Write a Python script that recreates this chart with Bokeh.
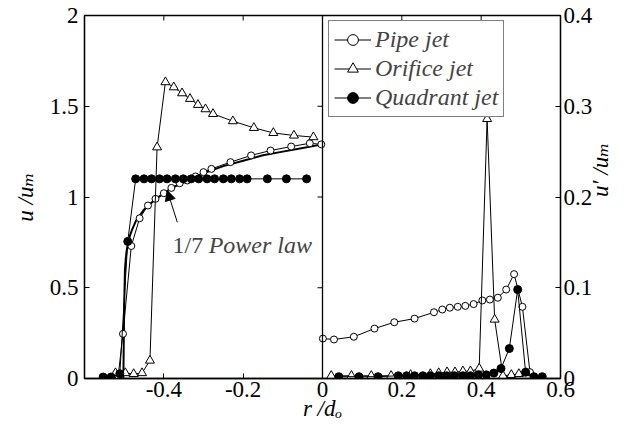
import math
from bokeh.plotting import figure
from bokeh.models import (Range1d, LinearAxis, FixedTicker, CustomJSTickFormatter,
                          Span, Label, Arrow, NormalHead, Legend, LegendItem)
from bokeh.embed import file_html
from bokeh.resources import INLINE

FONT = "Liberation Serif, Times New Roman, Tinos, DejaVu Serif, serif"

# ---------------- data: left half (mean velocity u/u_m) ----------------
pipe_r_mean = [-0.515, -0.503, -0.482, -0.461, -0.440, -0.421, -0.400, -0.381, -0.360, -0.341,
               -0.320, -0.300, -0.280, -0.232, -0.180, -0.131, -0.079, -0.032, -0.003]
pipe_u_mean = [0.015, 0.246, 0.730, 0.883, 0.953, 0.990, 1.021, 1.050, 1.076, 1.091,
               1.113, 1.137, 1.155, 1.192, 1.229, 1.256, 1.278, 1.296, 1.290]

orifice_r_mean = [-0.522, -0.497, -0.476, -0.455, -0.435, -0.417, -0.396, -0.375, -0.354, -0.334,
                  -0.314, -0.295, -0.276, -0.226, -0.173, -0.124, -0.072, -0.023]
orifice_u_mean = [0.030, 0.030, 0.025, 0.030, 0.099, 1.274, 1.633, 1.605, 1.572, 1.541,
                  1.508, 1.484, 1.458, 1.418, 1.381, 1.353, 1.339, 1.330]

quad_r_mean = [-0.553, -0.533, -0.511, -0.491, -0.471, -0.450, -0.431, -0.411, -0.392, -0.371,
               -0.351, -0.331, -0.312, -0.291, -0.272, -0.250, -0.230, -0.209, -0.190, -0.139,
               -0.091, -0.040]
quad_u_mean = [0.008, 0.008, 0.026, 0.755, 1.100, 1.100, 1.100, 1.100, 1.100, 1.100,
               1.100, 1.100, 1.100, 1.100, 1.100, 1.100, 1.100, 1.100, 1.100, 1.100,
               1.100, 1.100]

# 1/7 power-law curve
law_r = [-0.502, -0.500, -0.498, -0.496, -0.494, -0.490, -0.485, -0.480, -0.470, -0.460,
         -0.450, -0.440, -0.420, -0.400, -0.380, -0.350, -0.300, -0.250, -0.200, -0.150,
         -0.100, -0.050, 0.000]
law_u = [0.000, 0.400, 0.600, 0.660, 0.700, 0.750, 0.790, 0.820, 0.870, 0.900,
         0.930, 0.950, 0.990, 1.020, 1.050, 1.080, 1.130, 1.170, 1.200, 1.230,
         1.250, 1.270, 1.290]

# ---------------- data: right half (rms velocity u'/u_m) ----------------
pipe_r_rms = [0.001, 0.029, 0.079, 0.131, 0.181, 0.232, 0.281, 0.302, 0.321, 0.341,
              0.360, 0.381, 0.403, 0.422, 0.442, 0.463, 0.483, 0.504, 0.523]
pipe_u_rms = [0.044, 0.043, 0.046, 0.055, 0.062, 0.066, 0.073, 0.076, 0.078, 0.079,
              0.080, 0.082, 0.086, 0.087, 0.089, 0.098, 0.115, 0.079, 0.007]

orifice_r_rms = [0.022, 0.073, 0.123, 0.173, 0.222, 0.272, 0.293, 0.314, 0.334, 0.354,
                 0.373, 0.395, 0.415, 0.434, 0.455, 0.476, 0.495, 0.514]
orifice_u_rms = [0.003, 0.003, 0.003, 0.003, 0.004, 0.005, 0.006, 0.007, 0.007, 0.008,
                 0.008, 0.011, 0.286, 0.065, 0.003, 0.004, 0.005, 0.006]

quad_r_rms = [0.041, 0.092, 0.140, 0.191, 0.212, 0.232, 0.253, 0.272, 0.293, 0.313,
              0.333, 0.354, 0.373, 0.393, 0.413, 0.432, 0.450, 0.471, 0.492, 0.512,
              0.533, 0.554]
quad_u_rms = [0.002, 0.002, 0.002, 0.003, 0.003, 0.003, 0.003, 0.003, 0.003, 0.003,
              0.003, 0.003, 0.003, 0.004, 0.004, 0.006, 0.011, 0.033, 0.098, 0.007,
              0.002, 0.002]

x_ticks = [-0.4, -0.2, 0, 0.2, 0.4, 0.6]
y_ticks_left = [0, 0.5, 1, 1.5, 2]
y_ticks_right = [0, 0.1, 0.2, 0.3, 0.4]
center_ticks = [0.5, 1, 1.5]

series_names = ["Pipe jet", "Orifice jet", "Quadrant jet"]
x_title = "r /d\u2092"
y_title_left = "u /u\u2098"
y_title_right = "u\u2032 /u\u2098"

# ---------------- figure ----------------
p = figure(width=629, height=429, x_range=Range1d(-0.6, 0.6), y_range=Range1d(0, 2),
           output_backend="svg", toolbar_location=None,
           min_border_left=84, min_border_right=69, min_border_top=15, min_border_bottom=51)
p.extra_y_ranges = {"rms": Range1d(0, 0.4)}
p.grid.visible = False
p.outline_line_color = "black"
p.outline_line_width = 1.3
p.background_fill_color = "white"
p.border_fill_color = "white"

fmt = CustomJSTickFormatter(code="return String(Math.round(tick*10)/10);")

def style_axis(ax):
    ax.axis_line_color = "black"
    ax.axis_line_width = 1.3
    ax.major_tick_in = 5
    ax.major_tick_out = 0
    ax.minor_tick_line_color = None
    ax.major_tick_line_color = "black"
    ax.major_label_text_font = FONT
    ax.major_label_text_font_size = "23px"
    ax.major_label_text_color = "black"
    ax.axis_label_text_font = FONT
    ax.axis_label_text_font_size = "23px"
    ax.axis_label_text_font_style = "italic"
    ax.axis_label_text_color = "black"
    ax.formatter = fmt

xa = p.xaxis[0]
ya = p.yaxis[0]
xa.ticker = FixedTicker(ticks=x_ticks)
ya.ticker = FixedTicker(ticks=y_ticks_left)
style_axis(xa)
style_axis(ya)
xa.axis_label = x_title
xa.major_label_standoff = 3
xa.axis_label_standoff = -4
ya.axis_label = y_title_left
ya.major_label_standoff = 6
ya.axis_label_standoff = 9

ax_r = LinearAxis(y_range_name="rms", ticker=FixedTicker(ticks=y_ticks_right))
style_axis(ax_r)
ax_r.axis_label = y_title_right
ax_r.major_label_standoff = 3
ax_r.axis_label_standoff = 5
if "axis_label_orientation" in ax_r.properties():
    ax_r.axis_label_orientation = math.pi / 2
p.add_layout(ax_r, "right")

# inward ticks on the top edge and on the centre divider
p.add_layout(Span(location=0, dimension="height", line_color="black", line_width=1.3))
p.segment(x0=x_ticks, y0=[2] * len(x_ticks), x1=x_ticks, y1=[2 - 0.0276] * len(x_ticks),
          line_color="black", line_width=1)
p.segment(x0=[0] * len(center_ticks), y0=center_ticks,
          x1=[-0.0126] * len(center_ticks), y1=center_ticks, line_color="black", line_width=1)

# power law curve
p.line(law_r, law_u, line_color="black", line_width=2)

# mean (left)
l1 = p.line(pipe_r_mean, pipe_u_mean, line_color="black", line_width=1)
s1 = p.scatter(pipe_r_mean, pipe_u_mean, marker="circle", size=7, fill_color="white", line_color="black")
l2 = p.line(orifice_r_mean, orifice_u_mean, line_color="black", line_width=1)
s2 = p.scatter(orifice_r_mean, orifice_u_mean, marker="triangle", size=9, fill_color="white", line_color="black")
l3 = p.line(quad_r_mean, quad_u_mean, line_color="black", line_width=1)
s3 = p.scatter(quad_r_mean, quad_u_mean, marker="circle", size=8, fill_color="black", line_color="black")

# rms (right)
p.line(pipe_r_rms, pipe_u_rms, line_color="black", line_width=1, y_range_name="rms")
p.scatter(pipe_r_rms, pipe_u_rms, marker="circle", size=7, fill_color="white", line_color="black", y_range_name="rms")
p.line(orifice_r_rms, orifice_u_rms, line_color="black", line_width=1, y_range_name="rms")
p.scatter(orifice_r_rms, orifice_u_rms, marker="triangle", size=9, fill_color="white", line_color="black", y_range_name="rms")
p.line(quad_r_rms, quad_u_rms, line_color="black", line_width=1, y_range_name="rms")
p.scatter(quad_r_rms, quad_u_rms, marker="circle", size=8, fill_color="black", line_color="black", y_range_name="rms")

# legend
legend = Legend(items=[LegendItem(label=series_names[0], renderers=[l1, s1]),
                       LegendItem(label=series_names[1], renderers=[l2, s2]),
                       LegendItem(label=series_names[2], renderers=[l3, s3])],
                location=(244, 261), orientation="vertical")
legend.border_line_color = "black"
legend.border_line_width = 1.5
legend.background_fill_alpha = 1
legend.label_text_font = FONT
legend.label_text_font_style = "italic"
legend.label_text_font_size = "24px"
legend.glyph_width = 37
legend.glyph_height = 27
legend.label_height = 27
legend.spacing = 2
legend.padding = 5
legend.margin = 0
legend.label_standoff = 4
p.add_layout(legend)

# annotation "1/7 Power law" with arrow
ann_arrow = dict(x_start=-0.366, y_start=0.861, x_end=-0.3915, y_end=1.036)
p.add_layout(Arrow(end=NormalHead(size=10, fill_color="black", line_color="black"),
                   line_color="black", line_width=1, **ann_arrow))
ann_text = [("1/7", -0.378, 0.738, "normal"), ("Power law", -0.287, 0.738, "italic")]
for txt, ax_, ay_, st in ann_text:
    p.add_layout(Label(x=ax_, y=ay_, text=txt, text_font=FONT, text_font_style=st,
                       text_font_size="24px", text_baseline="alphabetic", text_align="left"))

open("out.html", "w").write(file_html(p, INLINE))
